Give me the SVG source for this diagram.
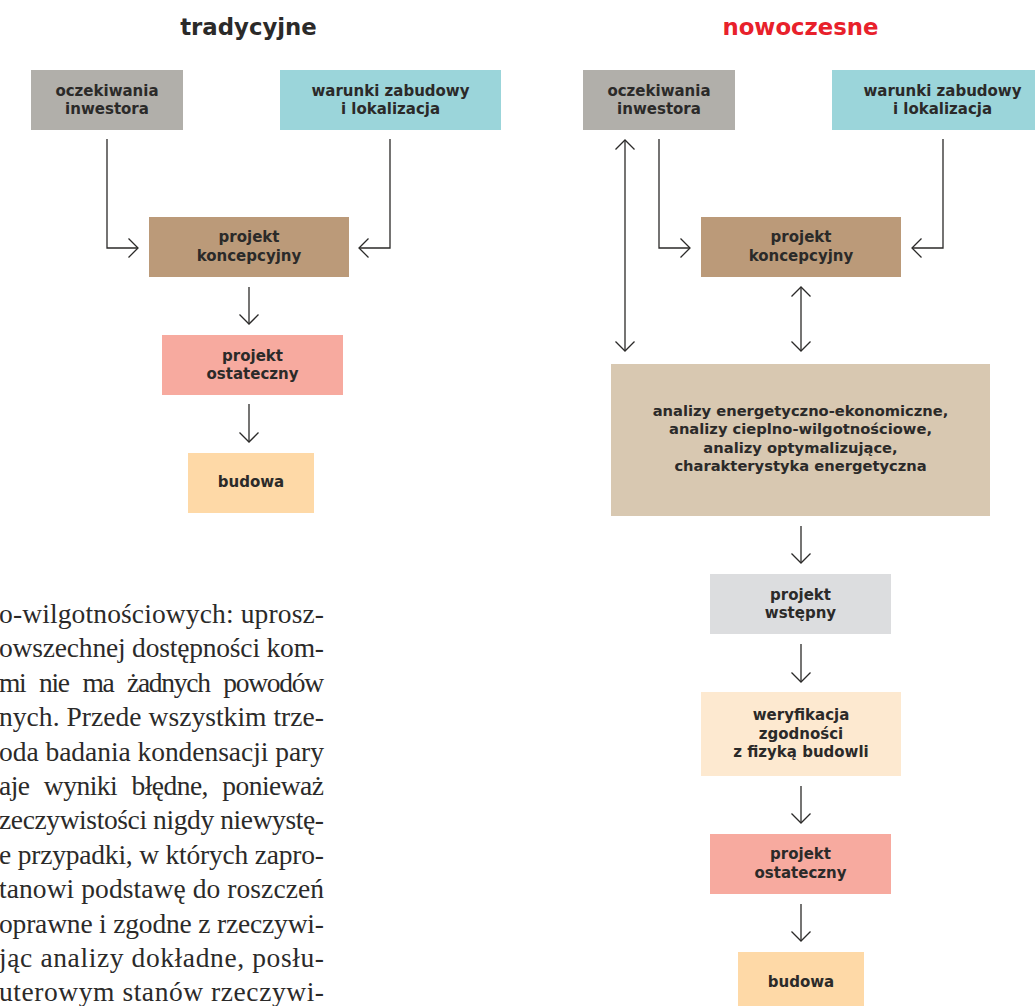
<svg xmlns="http://www.w3.org/2000/svg" width="1035" height="1006" viewBox="0 0 1035 1006">
<defs>
<style>
.lbl{font-family:"DejaVu Sans",Roboto,sans-serif;font-weight:bold;font-size:15px;fill:#2b2a29;text-anchor:middle}
.an{font-size:14.7px}
.ttl{font-family:"DejaVu Sans",Roboto,sans-serif;font-weight:bold;font-size:22.8px;text-anchor:middle}
.body{font-family:"Liberation Serif","Times New Roman",serif;font-size:27.5px;fill:#2b2a29}
.c{fill:none;stroke:#2b2a29;stroke-width:1.3}
</style>
<marker id="ar" markerUnits="userSpaceOnUse" markerWidth="14" markerHeight="24" viewBox="0 0 14 24" refX="11" refY="12" orient="auto-start-reverse" overflow="visible">
<path d="M1.5,2.5 L11,12 L1.5,21.5" fill="none" stroke="#2b2a29" stroke-width="1.3"/>
</marker>
</defs>
<rect width="1035" height="1006" fill="#ffffff"/>

<text class="ttl" x="248.5" y="35" fill="#2b2a29">tradycyjne</text>
<text class="ttl" x="800.5" y="35" fill="#e8212b">nowoczesne</text>

<g id="connectors">
<path class="c" d="M107,139 V248 H138" marker-end="url(#ar)"/>
<path class="c" d="M390,139 V248 H359" marker-end="url(#ar)"/>
<path class="c" d="M249,287 V324" marker-end="url(#ar)"/>
<path class="c" d="M249,404 V442" marker-end="url(#ar)"/>
<path class="c" d="M659,139 V248 H690" marker-end="url(#ar)"/>
<path class="c" d="M943,139 V248 H912" marker-end="url(#ar)"/>
<path class="c" d="M625,140 V351" marker-start="url(#ar)" marker-end="url(#ar)"/>
<path class="c" d="M801,287 V351" marker-start="url(#ar)" marker-end="url(#ar)"/>
<path class="c" d="M801,526 V563" marker-end="url(#ar)"/>
<path class="c" d="M801,644 V682" marker-end="url(#ar)"/>
<path class="c" d="M801,786 V823" marker-end="url(#ar)"/>
<path class="c" d="M801,904 V941" marker-end="url(#ar)"/>
</g>

<g id="t-oczekiwania">
<rect x="31" y="70" width="152" height="60" fill="#b1afaa"/>
<text class="lbl" x="107" y="95.5">oczekiwania</text>
<text class="lbl" x="107" y="114">inwestora</text>
</g>
<g id="t-warunki">
<rect x="280" y="70" width="221" height="60" fill="#9bd5da"/>
<text class="lbl" x="390.5" y="95.5">warunki zabudowy</text>
<text class="lbl" x="390.5" y="114">i lokalizacja</text>
</g>
<g id="t-koncepcyjny">
<rect x="149" y="217" width="200" height="60" fill="#bb9a79"/>
<text class="lbl" x="249" y="242">projekt</text>
<text class="lbl" x="249" y="260.5">koncepcyjny</text>
</g>
<g id="t-ostateczny">
<rect x="162" y="335" width="181" height="60" fill="#f7aa9f"/>
<text class="lbl" x="252.5" y="361">projekt</text>
<text class="lbl" x="252.5" y="379">ostateczny</text>
</g>
<g id="t-budowa">
<rect x="188" y="453" width="126" height="60" fill="#fed9a7"/>
<text class="lbl" x="251" y="487">budowa</text>
</g>

<g id="n-oczekiwania">
<rect x="583" y="70" width="152" height="60" fill="#b1afaa"/>
<text class="lbl" x="659" y="95.5">oczekiwania</text>
<text class="lbl" x="659" y="114">inwestora</text>
</g>
<g id="n-warunki">
<rect x="832" y="70" width="221" height="60" fill="#9bd5da"/>
<text class="lbl" x="942.5" y="95.5">warunki zabudowy</text>
<text class="lbl" x="942.5" y="114">i lokalizacja</text>
</g>
<g id="n-koncepcyjny">
<rect x="701" y="217" width="200" height="60" fill="#bb9a79"/>
<text class="lbl" x="801" y="242">projekt</text>
<text class="lbl" x="801" y="260.5">koncepcyjny</text>
</g>
<g id="n-analizy">
<rect x="611" y="364" width="379" height="152" fill="#d8c8b1"/>
<text class="lbl an" x="800.5" y="415.5">analizy energetyczno-ekonomiczne,</text>
<text class="lbl an" x="800.5" y="434">analizy cieplno-wilgotnościowe,</text>
<text class="lbl an" x="800.5" y="452.5">analizy optymalizujące,</text>
<text class="lbl an" x="800.5" y="471">charakterystyka energetyczna</text>
</g>
<g id="n-wstepny">
<rect x="710" y="574" width="181" height="60" fill="#dcdddf"/>
<text class="lbl" x="800.5" y="600">projekt</text>
<text class="lbl" x="800.5" y="618">wstępny</text>
</g>
<g id="n-weryfikacja">
<rect x="701" y="692" width="200" height="84" fill="#fde9d0"/>
<text class="lbl" x="801" y="720">weryfikacja</text>
<text class="lbl" x="801" y="738.5">zgodności</text>
<text class="lbl" x="801" y="757">z fizyką budowli</text>
</g>
<g id="n-ostateczny">
<rect x="710" y="834" width="181" height="60" fill="#f7aa9f"/>
<text class="lbl" x="800.5" y="859">projekt</text>
<text class="lbl" x="800.5" y="877.5">ostateczny</text>
</g>
<g id="n-budowa">
<rect x="738" y="952" width="126" height="60" fill="#fed9a7"/>
<text class="lbl" x="801" y="987">budowa</text>
</g>

<g id="bodytext">
<text class="body" x="-1" y="623" textLength="325" lengthAdjust="spacing">o-wilgotnościowych: uprosz-</text>
<text class="body" x="-1" y="657.4" textLength="325" lengthAdjust="spacing">owszechnej dostępności kom-</text>
<text class="body" x="-1" y="691.8" textLength="325" lengthAdjust="spacing" word-spacing="8">mi nie ma żadnych powodów</text>
<text class="body" x="-1" y="726.2" textLength="325" lengthAdjust="spacing">nych. Przede wszystkim trze-</text>
<text class="body" x="-1" y="760.6" textLength="325" lengthAdjust="spacing">oda badania kondensacji pary</text>
<text class="body" x="-1" y="795" textLength="325" lengthAdjust="spacing" word-spacing="8">aje wyniki błędne, ponieważ</text>
<text class="body" x="-1" y="829.4" textLength="325" lengthAdjust="spacing">zeczywistości nigdy niewystę-</text>
<text class="body" x="-1" y="863.8" textLength="325" lengthAdjust="spacing">e przypadki, w których zapro-</text>
<text class="body" x="-1" y="898.2" textLength="325" lengthAdjust="spacing">tanowi podstawę do roszczeń</text>
<text class="body" x="-1" y="932.6" textLength="325" lengthAdjust="spacing">oprawne i zgodne z rzeczywi-</text>
<text class="body" x="-1" y="967" textLength="325" lengthAdjust="spacing">jąc analizy dokładne, posłu-</text>
<text class="body" x="-1" y="1001.4" textLength="325" lengthAdjust="spacing">uterowym stanów rzeczywi-</text>
</g>
</svg>
